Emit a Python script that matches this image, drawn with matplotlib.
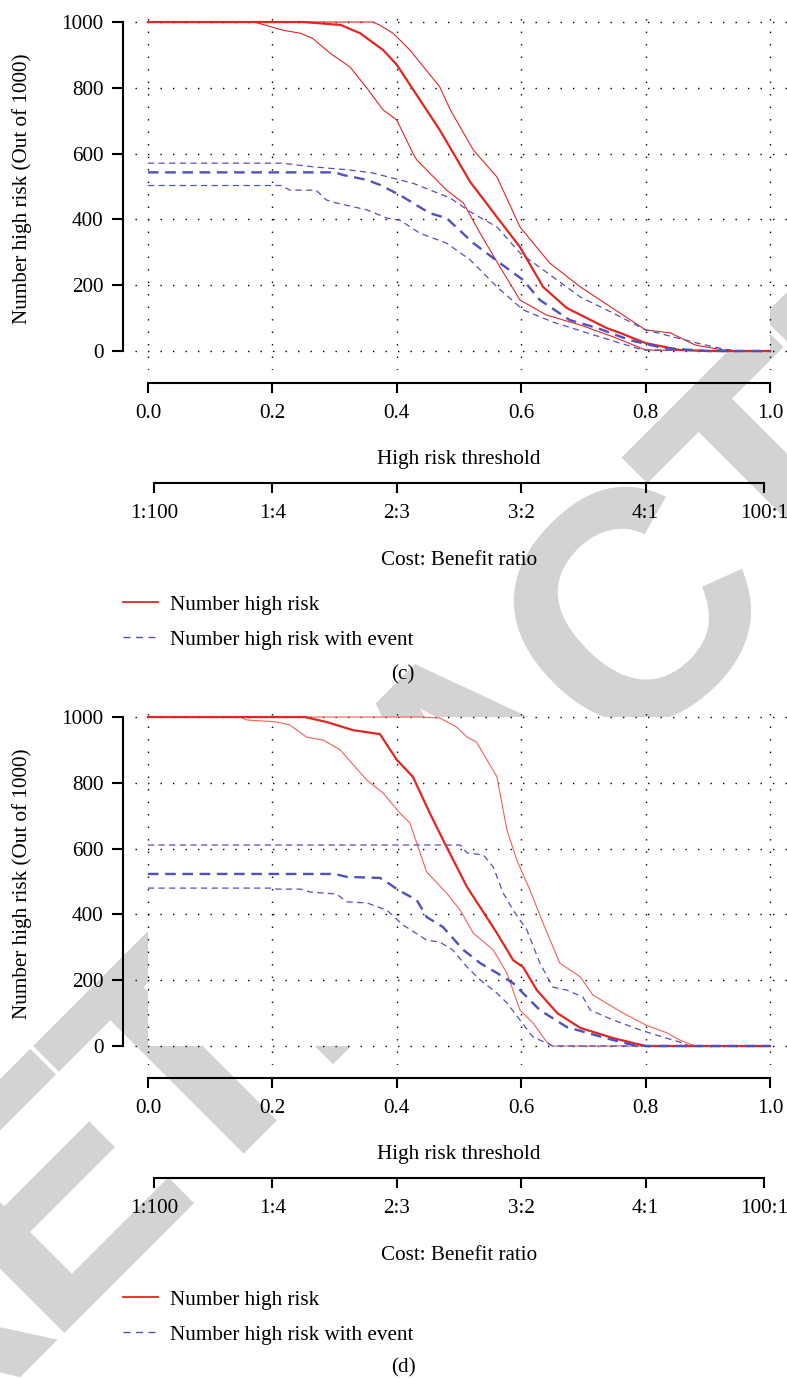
import matplotlib

matplotlib.use("Agg")
import matplotlib.pyplot as plt
from matplotlib.font_manager import FontProperties
from matplotlib.lines import Line2D
from matplotlib.patches import PathPatch, Rectangle
from matplotlib.textpath import TextPath
from matplotlib.transforms import Affine2D

plt.rcParams["font.family"] = ["Liberation Serif", "DejaVu Serif"]
plt.rcParams["font.size"] = 15.2

ROJO = "#e3261f"
ROJO_CLARO = "#f2605a"
AZUL = "#4f4fc6"
GRIS = "#d3d3d3"
ANCHO, ALTO = 787, 1378

# ---- panel (c) ----
c_rojo_med_x = [0, 0.25, 0.31, 0.341, 0.378, 0.40, 0.469, 0.518, 0.561, 0.598, 0.635, 0.673, 0.737, 0.759, 0.80, 0.855, 0.90, 1.0]
c_rojo_med_y = [1000, 1000, 991, 966, 915, 870, 672, 514, 407, 316, 195, 131, 70, 55, 24, 3, 0, 0]
c_rojo_sup_x = [0, 0.362, 0.373, 0.394, 0.421, 0.469, 0.486, 0.523, 0.561, 0.598, 0.646, 0.695, 0.759, 0.80, 0.84, 0.88, 0.925, 0.95, 1.0]
c_rojo_sup_y = [1000, 1000, 990, 966, 915, 803, 733, 611, 529, 377, 267, 195, 115, 64, 55, 18, 3, 0, 0]
c_rojo_inf_x = [0, 0.17, 0.19, 0.217, 0.245, 0.265, 0.293, 0.325, 0.352, 0.378, 0.40, 0.426, 0.432, 0.48, 0.507, 0.534, 0.566, 0.598, 0.641, 0.695, 0.748, 0.80, 1.0]
c_rojo_inf_y = [1000, 1000, 990, 975, 966, 950, 905, 863, 799, 733, 702, 601, 581, 489, 450, 358, 255, 155, 109, 79, 43, 3, 0]
c_azul_med_x = [0, 0.30, 0.314, 0.352, 0.373, 0.405, 0.453, 0.48, 0.523, 0.566, 0.603, 0.63, 0.678, 0.722, 0.775, 0.828, 0.90, 1.0]
c_azul_med_y = [543, 543, 535, 520, 505, 474, 419, 404, 328, 267, 216, 155, 94, 70, 33, 9, 0, 0]
c_azul_sup_x = [0, 0.215, 0.265, 0.325, 0.362, 0.405, 0.426, 0.486, 0.518, 0.561, 0.598, 0.651, 0.695, 0.748, 0.80, 0.844, 0.883, 0.925, 0.95, 1.0]
c_azul_sup_y = [571, 571, 560, 550, 541, 520, 510, 465, 423, 377, 298, 225, 164, 115, 64, 43, 24, 6, 0, 0]
c_azul_inf_x = [0, 0.215, 0.228, 0.27, 0.287, 0.303, 0.352, 0.384, 0.405, 0.437, 0.48, 0.518, 0.561, 0.603, 0.651, 0.706, 0.759, 0.796, 1.0]
c_azul_inf_y = [503, 503, 489, 489, 459, 450, 429, 404, 398, 358, 328, 277, 195, 125, 88, 55, 24, 3, 0]

# ---- panel (d) ----
d_rojo_med_x = [0, 0.252, 0.287, 0.33, 0.373, 0.40, 0.426, 0.453, 0.48, 0.513, 0.534, 0.561, 0.587, 0.603, 0.625, 0.658, 0.695, 0.748, 0.78, 0.80, 1.0]
d_rojo_med_y = [1000, 1000, 985, 960, 948, 870, 818, 708, 605, 483, 422, 343, 261, 240, 170, 100, 55, 24, 9, 0, 0]
d_rojo_sup_x = [0, 0.437, 0.469, 0.496, 0.513, 0.528, 0.561, 0.577, 0.593, 0.614, 0.635, 0.662, 0.695, 0.715, 0.764, 0.80, 0.834, 0.855, 0.871, 0.88, 1.0]
d_rojo_sup_y = [1000, 1000, 997, 970, 939, 924, 818, 657, 565, 474, 374, 252, 210, 155, 100, 64, 40, 18, 6, 0, 0]
d_rojo_inf_x = [0, 0.148, 0.159, 0.207, 0.228, 0.255, 0.282, 0.309, 0.352, 0.378, 0.405, 0.421, 0.448, 0.48, 0.502, 0.523, 0.555, 0.577, 0.598, 0.619, 0.641, 0.651, 1.0]
d_rojo_inf_y = [1000, 1000, 991, 985, 976, 939, 930, 900, 808, 769, 708, 678, 529, 465, 413, 343, 292, 222, 109, 70, 12, 0, 0]
d_azul_med_x = [0, 0.30, 0.32, 0.373, 0.384, 0.405, 0.432, 0.448, 0.474, 0.507, 0.534, 0.561, 0.587, 0.609, 0.63, 0.673, 0.706, 0.748, 0.78, 0.80, 1.0]
d_azul_med_y = [523, 523, 514, 511, 498, 471, 444, 392, 362, 292, 252, 222, 191, 149, 109, 58, 40, 18, 3, 0, 0]
d_azul_sup_x = [0, 0.502, 0.513, 0.539, 0.555, 0.571, 0.587, 0.609, 0.63, 0.651, 0.673, 0.699, 0.711, 0.748, 0.791, 0.828, 0.86, 0.87, 1.0]
d_azul_sup_y = [611, 611, 587, 581, 544, 465, 413, 353, 252, 179, 170, 149, 109, 79, 49, 27, 9, 0, 0]
d_azul_inf_x = [0, 0.20, 0.207, 0.245, 0.261, 0.303, 0.32, 0.352, 0.384, 0.41, 0.448, 0.469, 0.49, 0.513, 0.534, 0.561, 0.577, 0.598, 0.619, 0.641, 0.65, 1.0]
d_azul_inf_y = [480, 480, 477, 477, 468, 462, 438, 435, 413, 368, 322, 316, 292, 240, 201, 161, 131, 79, 27, 9, 0, 0]

umbrales = [0.0, 0.2, 0.4, 0.6, 0.8, 1.0]
etiquetas_umbral = ["0.0", "0.2", "0.4", "0.6", "0.8", "1.0"]
umbrales_cb = [1 / 101, 0.2, 0.4, 0.6, 0.8, 100 / 101]
etiquetas_cb = ["1:100", "1:4", "2:3", "3:2", "4:1", "100:1"]
marcas_y = [0, 200, 400, 600, 800, 1000]

punteado = (0, (1, 8))
guion_med = (0, (4.5, 2.8))
guion_ic = (0, (5, 3.5))


def marca_de_agua(figura, texto="RETRACTED"):
    """Texto gris en diagonal, letra a letra, por detrás de los paneles."""
    fuente = FontProperties(family="Liberation Sans", weight="bold")
    em = 327
    avance = {"R": 0.722, "E": 0.667, "T": 0.611, "A": 0.722, "C": 0.722, "D": 0.722}
    giro = Affine2D().rotate_deg(45).translate(0, ALTO)
    u = -1136
    for letra in texto:
        trazo = TextPath((u, -988), letra, size=em, prop=fuente)
        figura.add_artist(PathPatch(trazo, transform=giro, facecolor=GRIS,
                                    edgecolor="none", zorder=-1))
        u += avance[letra] * em - 19


def dibujar_panel(eje, rojo, azul, color_ic):
    eje.set_facecolor("none")
    eje.set_xlim(-0.04, 1.04)
    eje.set_ylim(-58, 1042)
    # zona de datos en blanco, por encima de la marca de agua
    eje.add_patch(Rectangle((0, 0), 1, 1000, facecolor="white", edgecolor="none", zorder=0.2))
    eje.hlines(marcas_y, -0.02, 1.04, colors="black", linewidth=1.0, linestyles=[punteado], zorder=0.5)
    eje.vlines(umbrales, -58, 1042, colors="black", linewidth=1.0, linestyles=[punteado], zorder=0.5)

    (xm, ym), (xs, ys), (xi, yi) = rojo
    eje.plot(xs, ys, color=color_ic, linewidth=0.8, zorder=2)
    eje.plot(xi, yi, color=color_ic, linewidth=0.8, zorder=2)
    eje.plot(xm, ym, color=ROJO, linewidth=1.6, zorder=3)
    (xm, ym), (xs, ys), (xi, yi) = azul
    eje.plot(xs, ys, color=AZUL, linewidth=0.9, linestyle=guion_ic, zorder=2)
    eje.plot(xi, yi, color=AZUL, linewidth=0.9, linestyle=guion_ic, zorder=2)
    eje.plot(xm, ym, color=AZUL, linewidth=1.7, linestyle=guion_med, zorder=3)

    for lado in ["top", "right"]:
        eje.spines[lado].set_visible(False)
    eje.spines["left"].set_bounds(0, 1000)
    eje.spines["left"].set_linewidth(1.5)
    eje.spines["bottom"].set_position(("outward", 9.4))
    eje.spines["bottom"].set_bounds(0, 1)
    eje.spines["bottom"].set_linewidth(1.5)
    eje.set_yticks(marcas_y)
    eje.set_xticks(umbrales, etiquetas_umbral)
    eje.tick_params(axis="y", length=8, width=1.5, pad=6)
    eje.tick_params(axis="x", length=7.2, width=1.5, pad=8)
    eje.set_ylabel("Number high risk (Out of 1000)")
    eje.yaxis.set_label_coords(-0.135, 0.5)
    eje.set_xlabel("High risk threshold", va="top")
    eje.xaxis.set_label_coords(0.5, -0.221)

    eje_cb = eje.twiny()
    eje_cb.set_xlim(eje.get_xlim())
    eje_cb.set_facecolor("none")
    eje_cb.xaxis.set_ticks_position("bottom")
    eje_cb.xaxis.set_label_position("bottom")
    for lado in ["top", "right", "left"]:
        eje_cb.spines[lado].set_visible(False)
    eje_cb.spines["bottom"].set_position(("outward", 81.4))
    eje_cb.spines["bottom"].set_bounds(umbrales_cb[0], umbrales_cb[-1])
    eje_cb.spines["bottom"].set_linewidth(1.5)
    eje_cb.set_xticks(umbrales_cb, etiquetas_cb)
    eje_cb.tick_params(axis="x", length=7.2, width=1.5, pad=8)
    eje_cb.set_xlabel("Cost: Benefit ratio", va="top")
    eje_cb.xaxis.set_label_coords(0.5, -0.501)


def caja(x0, y0, x1, y1):
    return [x0 / ANCHO, 1 - y1 / ALTO, (x1 - x0) / ANCHO, (y1 - y0) / ALTO]


figura = plt.figure(figsize=(ANCHO / 100, ALTO / 100), dpi=100)
marca_de_agua(figura)

manejadores = [
    Line2D([], [], color=ROJO, linewidth=1.3),
    Line2D([], [], color=AZUL, linewidth=1.0, linestyle=(0, (5, 4))),
]
nombres = ["Number high risk", "Number high risk with event"]

paneles = [
    ("(c)", 0, ROJO, [(c_rojo_med_x, c_rojo_med_y), (c_rojo_sup_x, c_rojo_sup_y), (c_rojo_inf_x, c_rojo_inf_y)],
     [(c_azul_med_x, c_azul_med_y), (c_azul_sup_x, c_azul_sup_y), (c_azul_inf_x, c_azul_inf_y)]),
    ("(d)", 695, ROJO_CLARO, [(d_rojo_med_x, d_rojo_med_y), (d_rojo_sup_x, d_rojo_sup_y), (d_rojo_inf_x, d_rojo_inf_y)],
     [(d_azul_med_x, d_azul_med_y), (d_azul_sup_x, d_azul_sup_y), (d_azul_inf_x, d_azul_inf_y)]),
]

for letra, desfase, color_ic, rojo, azul in paneles:
    eje = figura.add_axes(caja(123, 8.2 + desfase, 795, 370.1 + desfase))
    dibujar_panel(eje, rojo, azul, color_ic)
    eje.legend(manejadores, nombres, loc="upper left",
               bbox_to_anchor=(123 / ANCHO, 1 - (595 + desfase) / ALTO),
               bbox_transform=figura.transFigure, frameon=False, borderpad=0,
               borderaxespad=0, handlelength=1.65, handletextpad=0.6, labelspacing=0.72)
    figura.text(403 / ANCHO, 1 - (675 + desfase * 0.997) / ALTO, letra, ha="center", va="center")

figura.savefig("out.png", dpi=100)
plt.close(figura)
